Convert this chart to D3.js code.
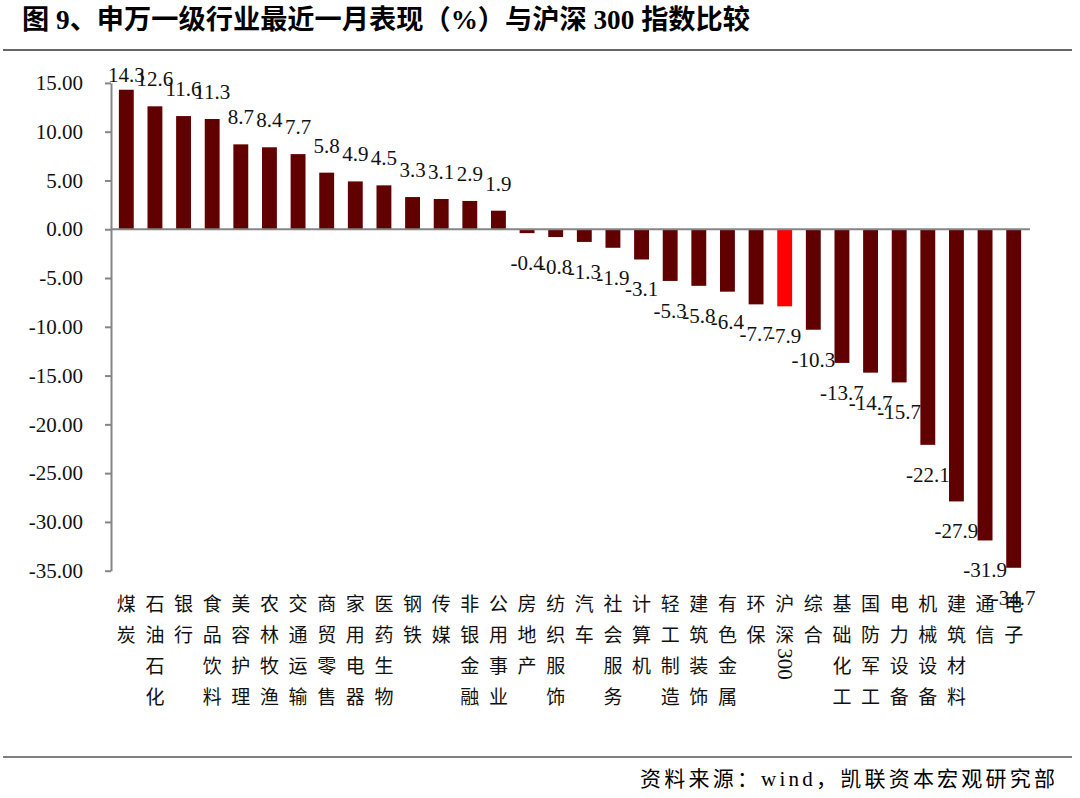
<!DOCTYPE html>
<html>
<head>
<meta charset="utf-8">
<script src="https://cdn.jsdelivr.net/npm/d3@7"></script>
<style>
  body { margin: 0; background: #fff; }
  svg { display: block; }
</style>
</head>
<body>
<div id="chart"></div>
<script>
var categories = ['煤炭', '石油石化', '银行', '食品饮料', '美容护理', '农林牧渔', '交通运输', '商贸零售',
  '家用电器', '医药生物', '钢铁', '传媒', '非银金融', '公用事业', '房地产', '纺织服饰', '汽车',
  '社会服务', '计算机', '轻工制造', '建筑装饰', '有色金属', '环保', '沪深300', '综合', '基础化工',
  '国防军工', '电力设备', '机械设备', '建筑材料', '通信', '电子'];
var values = [14.3, 12.6, 11.6, 11.3, 8.7, 8.4, 7.7, 5.8, 4.9, 4.5, 3.3, 3.1, 2.9, 1.9,
  -0.4, -0.8, -1.3, -1.9, -3.1, -5.3, -5.8, -6.4, -7.7, -7.9, -10.3, -13.7, -14.7, -15.7,
  -22.1, -27.9, -31.9, -34.7];
var yTicks = [15, 10, 5, 0, -5, -10, -15, -20, -25, -30, -35];
var highlight = '沪深300';

var width = 1080,
    height = 798,
    serif = '"Liberation Serif", "Noto Sans CJK SC", serif';

var svg = d3.select('#chart').append('svg')
  .attr('width', width).attr('height', height);

var x = d3.scaleBand().domain(categories).range([112, 1028]).paddingInner(0.48).paddingOuter(0.24),
    y = d3.scaleLinear().domain([-35, 15]).range([570.7, 82.9]),
    fmt = d3.formatLocale({ decimal: '.', thousands: ',', grouping: [3], currency: ['', ''], minus: '-' });

// title + rules
svg.append('text')
  .attr('x', 22).attr('y', 29)
  .attr('textLength', 728).attr('lengthAdjust', 'spacingAndGlyphs')
  .style('font-family', serif).style('font-size', '27px').style('font-weight', 700)
  .text('图 9、申万一级行业最近一月表现（%）与沪深 300 指数比较');

svg.append('line').attr('x1', 3).attr('x2', 1072).attr('y1', 50).attr('y2', 50)
  .attr('stroke', '#333').attr('stroke-width', 1.5);
svg.append('line').attr('x1', 3).attr('x2', 1072).attr('y1', 757).attr('y2', 757)
  .attr('stroke', '#555').attr('stroke-width', 1.5);

svg.append('text')
  .attr('x', 640).attr('y', 786)
  .attr('textLength', 415).attr('lengthAdjust', 'spacing')
  .style('font-family', serif).style('font-size', '21px')
  .text('资料来源：wind，凯联资本宏观研究部');

// bars
svg.append('g').selectAll('rect')
  .data(values)
  .join('rect')
  .attr('x', function(d, i) { return x(categories[i]); })
  .attr('width', x.bandwidth())
  .attr('y', function(d) { return y(Math.max(0, d)); })
  .attr('height', function(d) { return Math.abs(y(d) - y(0)); })
  .attr('fill', function(d, i) { return categories[i] === highlight ? '#ff0000' : '#600000'; });

// y axis
var yAxis = svg.append('g')
  .attr('transform', 'translate(111,0)')
  .call(d3.axisLeft(y).tickValues(yTicks).tickSize(6).tickSizeOuter(0).tickPadding(22).tickFormat(fmt.format('.2f')));
yAxis.select('.domain').attr('stroke', '#858585').attr('stroke-width', 2);
yAxis.selectAll('.tick line').attr('stroke', '#858585').attr('stroke-width', 2);
yAxis.selectAll('.tick text').style('font-family', serif).style('font-size', '21px').attr('fill', '#111');

// zero line
svg.append('line')
  .attr('x1', x.range()[0] - 1).attr('x2', x.range()[1] + 2)
  .attr('y1', y(0)).attr('y2', y(0))
  .attr('stroke', '#858585').attr('stroke-width', 2);

// value labels
svg.append('g').selectAll('text')
  .data(values)
  .join('text')
  .attr('x', function(d, i) { return x(categories[i]) + x.bandwidth() / 2; })
  .attr('y', function(d) { return d >= 0 ? Math.max(y(d) - 20, 82) : y(d) + 37; })
  .attr('text-anchor', 'middle')
  .style('font-family', serif).style('font-size', '21px').attr('fill', '#111')
  .text(function(d) { return d.toFixed(1); });

// vertical category labels, one glyph per row
var rowY = [602, 633, 664, 695];

function tokens(name) {
  return name.match(/[0-9]+|./g);
}

var labels = svg.append('g').selectAll('g')
  .data(categories)
  .join('g')
  .attr('transform', function(d) { return 'translate(' + (x(d) + x.bandwidth() / 2) + ',0)'; });

labels.selectAll('text')
  .data(function(d) { return tokens(d); })
  .join('text')
  .attr('text-anchor', 'middle')
  .attr('dominant-baseline', 'central')
  .attr('transform', function(t, j) {
    var rot = /[0-9]/.test(t) ? ' rotate(90)' : '';
    return 'translate(0,' + rowY[j] + ')' + rot;
  })
  .style('font-family', function(t) { return /[0-9]/.test(t) ? serif : '"Noto Sans CJK SC", sans-serif'; })
  .style('font-size', function(t) { return /[0-9]/.test(t) ? '21px' : '19px'; })
  .attr('fill', '#111')
  .text(function(t) { return t; });
</script>
</body>
</html>
